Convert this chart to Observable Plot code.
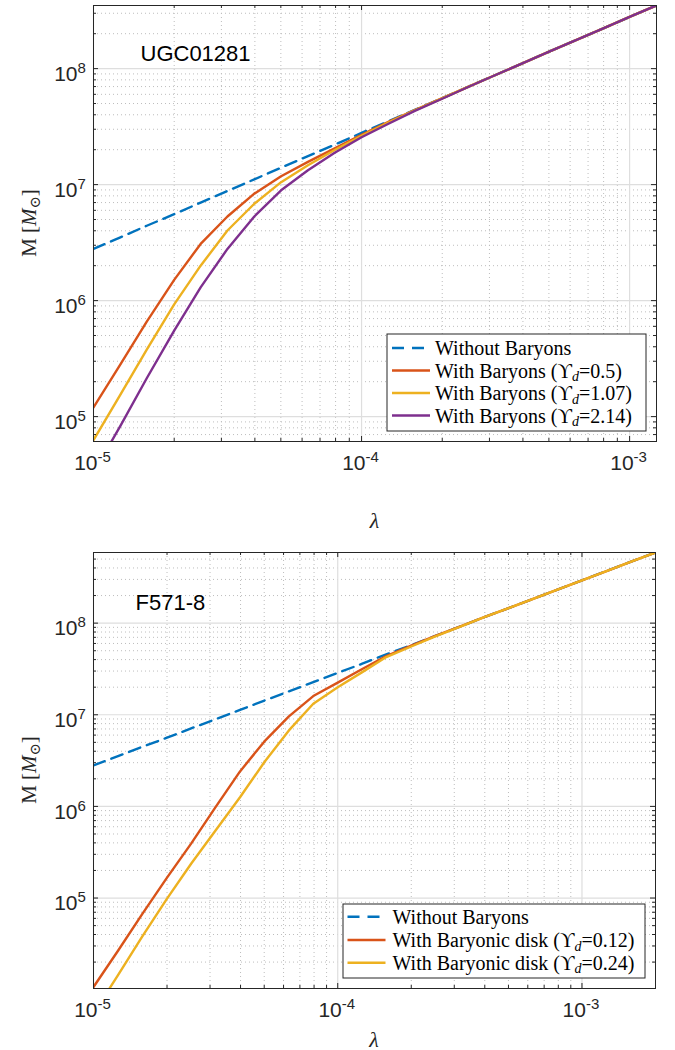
<!DOCTYPE html>
<html>
<head>
<meta charset="utf-8">
<script src="https://cdn.jsdelivr.net/npm/d3@7"></script>
<script src="https://cdn.jsdelivr.net/npm/@observablehq/plot@0.6"></script>
<style>
  body { margin: 0; background: #fff; }
  #page { width: 675px; height: 1050px; overflow: hidden; }
  #page svg { display: block; }
</style>
</head>
<body>
<div id="page"></div>
<script>
// Dimensionless coupling λ, sampled 10 points per decade
const lambda = [1.00e-5, 1.26e-5, 1.58e-5, 2.00e-5, 2.51e-5, 3.16e-5, 3.98e-5, 5.01e-5, 6.31e-5, 7.94e-5,
  1.00e-4, 1.26e-4, 1.58e-4, 2.00e-4, 2.51e-4, 3.16e-4, 3.98e-4, 5.01e-4, 6.31e-4, 7.94e-4,
  1.00e-3, 1.26e-3, 1.58e-3, 2.00e-3];

// UGC01281 — mass M [M_sun]
const ugcNoBaryons = [2.79e6, 3.51e6, 4.42e6, 5.56e6, 7.00e6, 8.81e6, 1.11e7, 1.40e7, 1.76e7, 2.21e7,
  2.79e7, 3.51e7, 4.42e7, 5.56e7, 7.00e7, 8.81e7, 1.11e8, 1.40e8, 1.76e8, 2.21e8, 2.79e8, 3.51e8];
const ugcUps050 = [1.20e5, 2.82e5, 6.58e5, 1.51e6, 3.08e6, 5.31e6, 8.36e6, 1.18e7, 1.57e7, 2.05e7,
  2.68e7, 3.47e7, 4.40e7, 5.56e7, 7.00e7, 8.81e7, 1.11e8, 1.40e8, 1.76e8, 2.21e8, 2.79e8, 3.51e8];
const ugcUps107 = [6.28e4, 1.55e5, 3.78e5, 9.29e5, 2.00e6, 4.02e6, 6.84e6, 1.05e7, 1.47e7, 1.99e7,
  2.63e7, 3.43e7, 4.37e7, 5.54e7, 7.00e7, 8.81e7, 1.11e8, 1.40e8, 1.76e8, 2.21e8, 2.79e8, 3.51e8];
const ugcUps214 = [3.28e4, 8.32e4, 2.14e5, 5.50e5, 1.30e6, 2.79e6, 5.31e6, 8.93e6, 1.33e7, 1.88e7,
  2.56e7, 3.35e7, 4.32e7, 5.50e7, 6.98e7, 8.81e7, 1.11e8, 1.40e8, 1.76e8, 2.21e8, 2.79e8, 3.51e8];

// F571-8 — mass M [M_sun]
const f571NoBaryons = [2.80e6, 3.53e6, 4.46e6, 5.62e6, 7.10e6, 8.95e6, 1.13e7, 1.43e7, 1.80e7, 2.27e7,
  2.86e7, 3.61e7, 4.56e7, 5.75e7, 7.26e7, 9.16e7, 1.16e8, 1.46e8, 1.84e8, 2.32e8, 2.93e8, 3.70e8, 4.67e8, 5.89e8];
const f571Ups012 = [1.07e4, 2.66e4, 6.64e4, 1.67e5, 3.92e5, 9.84e5, 2.41e6, 5.12e6, 9.59e6, 1.60e7,
  2.24e7, 3.16e7, 4.37e7, 5.69e7, 7.26e7, 9.16e7, 1.16e8, 1.46e8, 1.84e8, 2.32e8, 2.93e8, 3.70e8, 4.67e8, 5.89e8];
const f571Ups024 = [5.50e3, 1.44e4, 3.76e4, 9.84e4, 2.37e5, 5.47e5, 1.26e6, 3.05e6, 6.75e6, 1.32e7,
  2.00e7, 2.92e7, 4.26e7, 5.56e7, 7.16e7, 9.10e7, 1.16e8, 1.46e8, 1.84e8, 2.32e8, 2.93e8, 3.70e8, 4.67e8, 5.89e8];

// Legend text and mass-to-light ratios
const ugcLabels = ["Without Baryons", "With Baryons", "With Baryons", "With Baryons"];
const ugcUpsilon = [null, "0.5", "1.07", "2.14"];
const f571Labels = ["Without Baryons", "With Baryonic disk", "With Baryonic disk"];
const f571Upsilon = [null, "0.12", "0.24"];

// Axis ticks
const xMajorTicks = [1e-5, 1e-4, 1e-3];
const yMajorTicks = [1e4, 1e5, 1e6, 1e7, 1e8];
const minorMultipliers = [2, 3, 4, 5, 6, 7, 8, 9];

const colors = ["#0072BD", "#D95319", "#EDB120", "#7E2F8E"];
const SANS = "'Liberation Sans', Arial, Helvetica, sans-serif";
const SERIF = "'Liberation Serif', 'DejaVu Serif', 'Times New Roman', serif";
const AXIS = "#262626";
const NS = "http://www.w3.org/2000/svg";

function el(tag, attrs, parent) {
  const e = document.createElementNS(NS, tag);
  for (const [k, v] of Object.entries(attrs || {})) if (v != null) e.setAttribute(k, v);
  if (parent) parent.appendChild(e);
  return e;
}

// text made of parts: {t, italic, sub}
function richText(parent, parts, attrs, size) {
  const text = el("text", attrs, parent);
  let shifted = 0;
  for (const p of parts) {
    const target = p.sub ? size * 0.28 : 0;
    const dy = target - shifted;
    shifted = target;
    const ts = el("tspan", {
      dy: dy || null,
      "font-style": p.italic ? "italic" : null,
      "font-size": p.sub ? size * 0.7 : null
    }, text);
    ts.textContent = p.t;
  }
  return text;
}

function inDomain(values, [a, b]) {
  return values.filter((v) => v >= a * 0.9999 && v <= b * 1.0001);
}

function minorTicks(domain) {
  const out = [];
  for (let e = -6; e <= 9; e++) for (const m of minorMultipliers) out.push(m * Math.pow(10, e));
  return inDomain(out, domain);
}

function legendParts(label, ups) {
  if (ups == null) return [{t: label}];
  return [{t: label + " ("}, {t: "\u03D2"}, {t: "d", italic: true, sub: true}, {t: "=" + ups + ")"}];
}

function panel(cfg) {
  const {height, marginTop, marginBottom, marginRight, xDomain, yDomain, series, title, titleDx, titleDy,
    legend, xLabelDy} = cfg;
  const width = 675, marginLeft = 93;
  const innerW = width - marginLeft - marginRight;
  const innerH = height - marginTop - marginBottom;
  const xMaj = inDomain(xMajorTicks, xDomain), yMaj = inDomain(yMajorTicks, yDomain);
  const xMin = minorTicks(xDomain), yMin = minorTicks(yDomain);

  const lineMarks = series.map((s, i) => Plot.line(
    s.values.map((m, j) => ({lambda: lambda[j], M: m})),
    {x: "lambda", y: "M", stroke: colors[i], strokeWidth: 2.4, clip: true,
     strokeDasharray: i === 0 ? "12,7" : null}
  ));

  // y-axis label: M [M_⊙]
  const yLabel = (index, scales, values, dims) => {
    const cy = (dims.marginTop + dims.height - dims.marginBottom) / 2;
    const g = el("g", {transform: `translate(29,${cy}) rotate(-90)`});
    richText(g, [{t: "M ["}, {t: "M", italic: true}, {t: "\u2299", sub: true}, {t: "]"}],
      {"text-anchor": "middle", "dominant-baseline": "central", "font-family": SERIF,
       "font-size": 21, fill: AXIS}, 21);
    return g;
  };

  // x-axis label: λ
  const xLabel = (index, scales, values, dims) => {
    const cx = (dims.marginLeft + dims.width - dims.marginRight) / 2;
    const t = el("text", {x: cx, y: dims.height - dims.marginBottom + xLabelDy, "text-anchor": "middle",
      "dominant-baseline": "central", "font-family": SERIF, "font-style": "italic", "font-size": 22, fill: AXIS});
    t.textContent = "\u03BB";
    return t;
  };

  // legend box in the lower-right corner of the frame
  const legendMark = (index, scales, values, dims) => {
    const g = el("g", {"text-anchor": "start"});
    const right = dims.width - dims.marginRight - 10;
    const bottom = dims.height - dims.marginBottom - 10;
    const x0 = right - legend.w, y0 = bottom - legend.h;
    el("rect", {x: x0, y: y0, width: legend.w, height: legend.h, fill: "#fff", stroke: AXIS, "stroke-width": 1}, g);
    legend.labels.forEach((lab, i) => {
      const cy = y0 + legend.rowY[i];
      el("line", {x1: x0 + legend.sw0, x2: x0 + legend.sw1, y1: cy, y2: cy, stroke: colors[i], "stroke-width": 2.4,
        "stroke-dasharray": i === 0 ? "12,8" : null}, g);
      richText(g, legendParts(lab, legend.ups[i]), {x: x0 + legend.tx, y: cy, "text-anchor": "start",
        "dominant-baseline": "central", "font-family": SERIF, "font-size": 20, fill: "#000"}, 20);
    });
    return g;
  };

  return Plot.plot({
    width, height, marginLeft, marginRight, marginTop, marginBottom,
    x: {type: "log", domain: xDomain, axis: null},
    y: {type: "log", domain: yDomain, axis: null},
    marks: [
      // grid
      Plot.ruleX(xMin, {x: (d) => d, stroke: "#bdbdbd", strokeWidth: 1, strokeDasharray: "1,3"}),
      Plot.ruleY(yMin, {y: (d) => d, stroke: "#bdbdbd", strokeWidth: 1, strokeDasharray: "1,3"}),
      Plot.ruleX(xMaj, {x: (d) => d, stroke: "#dedede", strokeWidth: 1.2}),
      Plot.ruleY(yMaj, {y: (d) => d, stroke: "#dedede", strokeWidth: 1.2}),
      // curves
      ...lineMarks,
      // box and inward ticks on all four sides
      Plot.frame({stroke: AXIS, strokeWidth: 1}),
      Plot.tickX(xMaj, {x: (d) => d, insetTop: innerH - 5, stroke: AXIS}),
      Plot.tickX(xMaj, {x: (d) => d, insetBottom: innerH - 5, stroke: AXIS}),
      Plot.tickX(xMin, {x: (d) => d, insetTop: innerH - 3, stroke: AXIS}),
      Plot.tickX(xMin, {x: (d) => d, insetBottom: innerH - 3, stroke: AXIS}),
      Plot.tickY(yMaj, {y: (d) => d, insetRight: innerW - 5, stroke: AXIS}),
      Plot.tickY(yMaj, {y: (d) => d, insetLeft: innerW - 5, stroke: AXIS}),
      Plot.tickY(yMin, {y: (d) => d, insetRight: innerW - 3, stroke: AXIS}),
      Plot.tickY(yMin, {y: (d) => d, insetLeft: innerW - 3, stroke: AXIS}),
      // tick labels 10^n
      Plot.text(xMaj, {x: (d) => d, frameAnchor: "bottom", text: () => "10", textAnchor: "end",
        dx: 4, dy: 28, fontSize: 21, fontFamily: SANS, fill: AXIS}),
      Plot.text(xMaj, {x: (d) => d, frameAnchor: "bottom", text: (d) => String(Math.round(Math.log10(d))),
        textAnchor: "start", dx: 4, dy: 20, fontSize: 15, fontFamily: SANS, fill: AXIS}),
      Plot.text(yMaj, {y: (d) => d, frameAnchor: "left", text: () => "10", textAnchor: "end",
        dx: -16, dy: 5.5, fontSize: 21, fontFamily: SANS, fill: AXIS}),
      Plot.text(yMaj, {y: (d) => d, frameAnchor: "left", text: (d) => String(Math.round(Math.log10(d))),
        textAnchor: "start", dx: -16, dy: -0.5, fontSize: 15, fontFamily: SANS, fill: AXIS}),
      // galaxy name
      Plot.text([title], {frameAnchor: "top-left", text: (d) => d, textAnchor: "start", dx: titleDx, dy: titleDy,
        fontSize: 22, fontFamily: SANS, fill: "#000"}),
      yLabel, xLabel, legendMark
    ]
  });
}

const page = document.getElementById("page");

page.appendChild(panel({
  height: 545, marginTop: 5, marginBottom: 104, marginRight: 19,
  xDomain: [1e-5, 1.26e-3], yDomain: [6.1e4, 3.5e8],
  series: [{values: ugcNoBaryons}, {values: ugcUps050}, {values: ugcUps107}, {values: ugcUps214}],
  title: "UGC01281", titleDx: 47, titleDy: 40, xLabelDy: 79,
  legend: {w: 259, h: 97, rowY: [14, 36.5, 59, 81.5], sw0: 5, sw1: 43, tx: 48, labels: ugcLabels, ups: ugcUpsilon}
}));

page.appendChild(panel({
  height: 505, marginTop: 7, marginBottom: 62, marginRight: 20,
  xDomain: [1e-5, 2.0e-3], yDomain: [1.03e4, 5.9e8],
  series: [{values: f571NoBaryons}, {values: f571Ups012}, {values: f571Ups024}],
  title: "F571-8", titleDx: 42, titleDy: 42, xLabelDy: 51,
  legend: {w: 302, h: 74, rowY: [12.7, 36, 58.7], sw0: 4.5, sw1: 42.5, tx: 49.5, labels: f571Labels, ups: f571Upsilon}
}));
</script>
</body>
</html>
